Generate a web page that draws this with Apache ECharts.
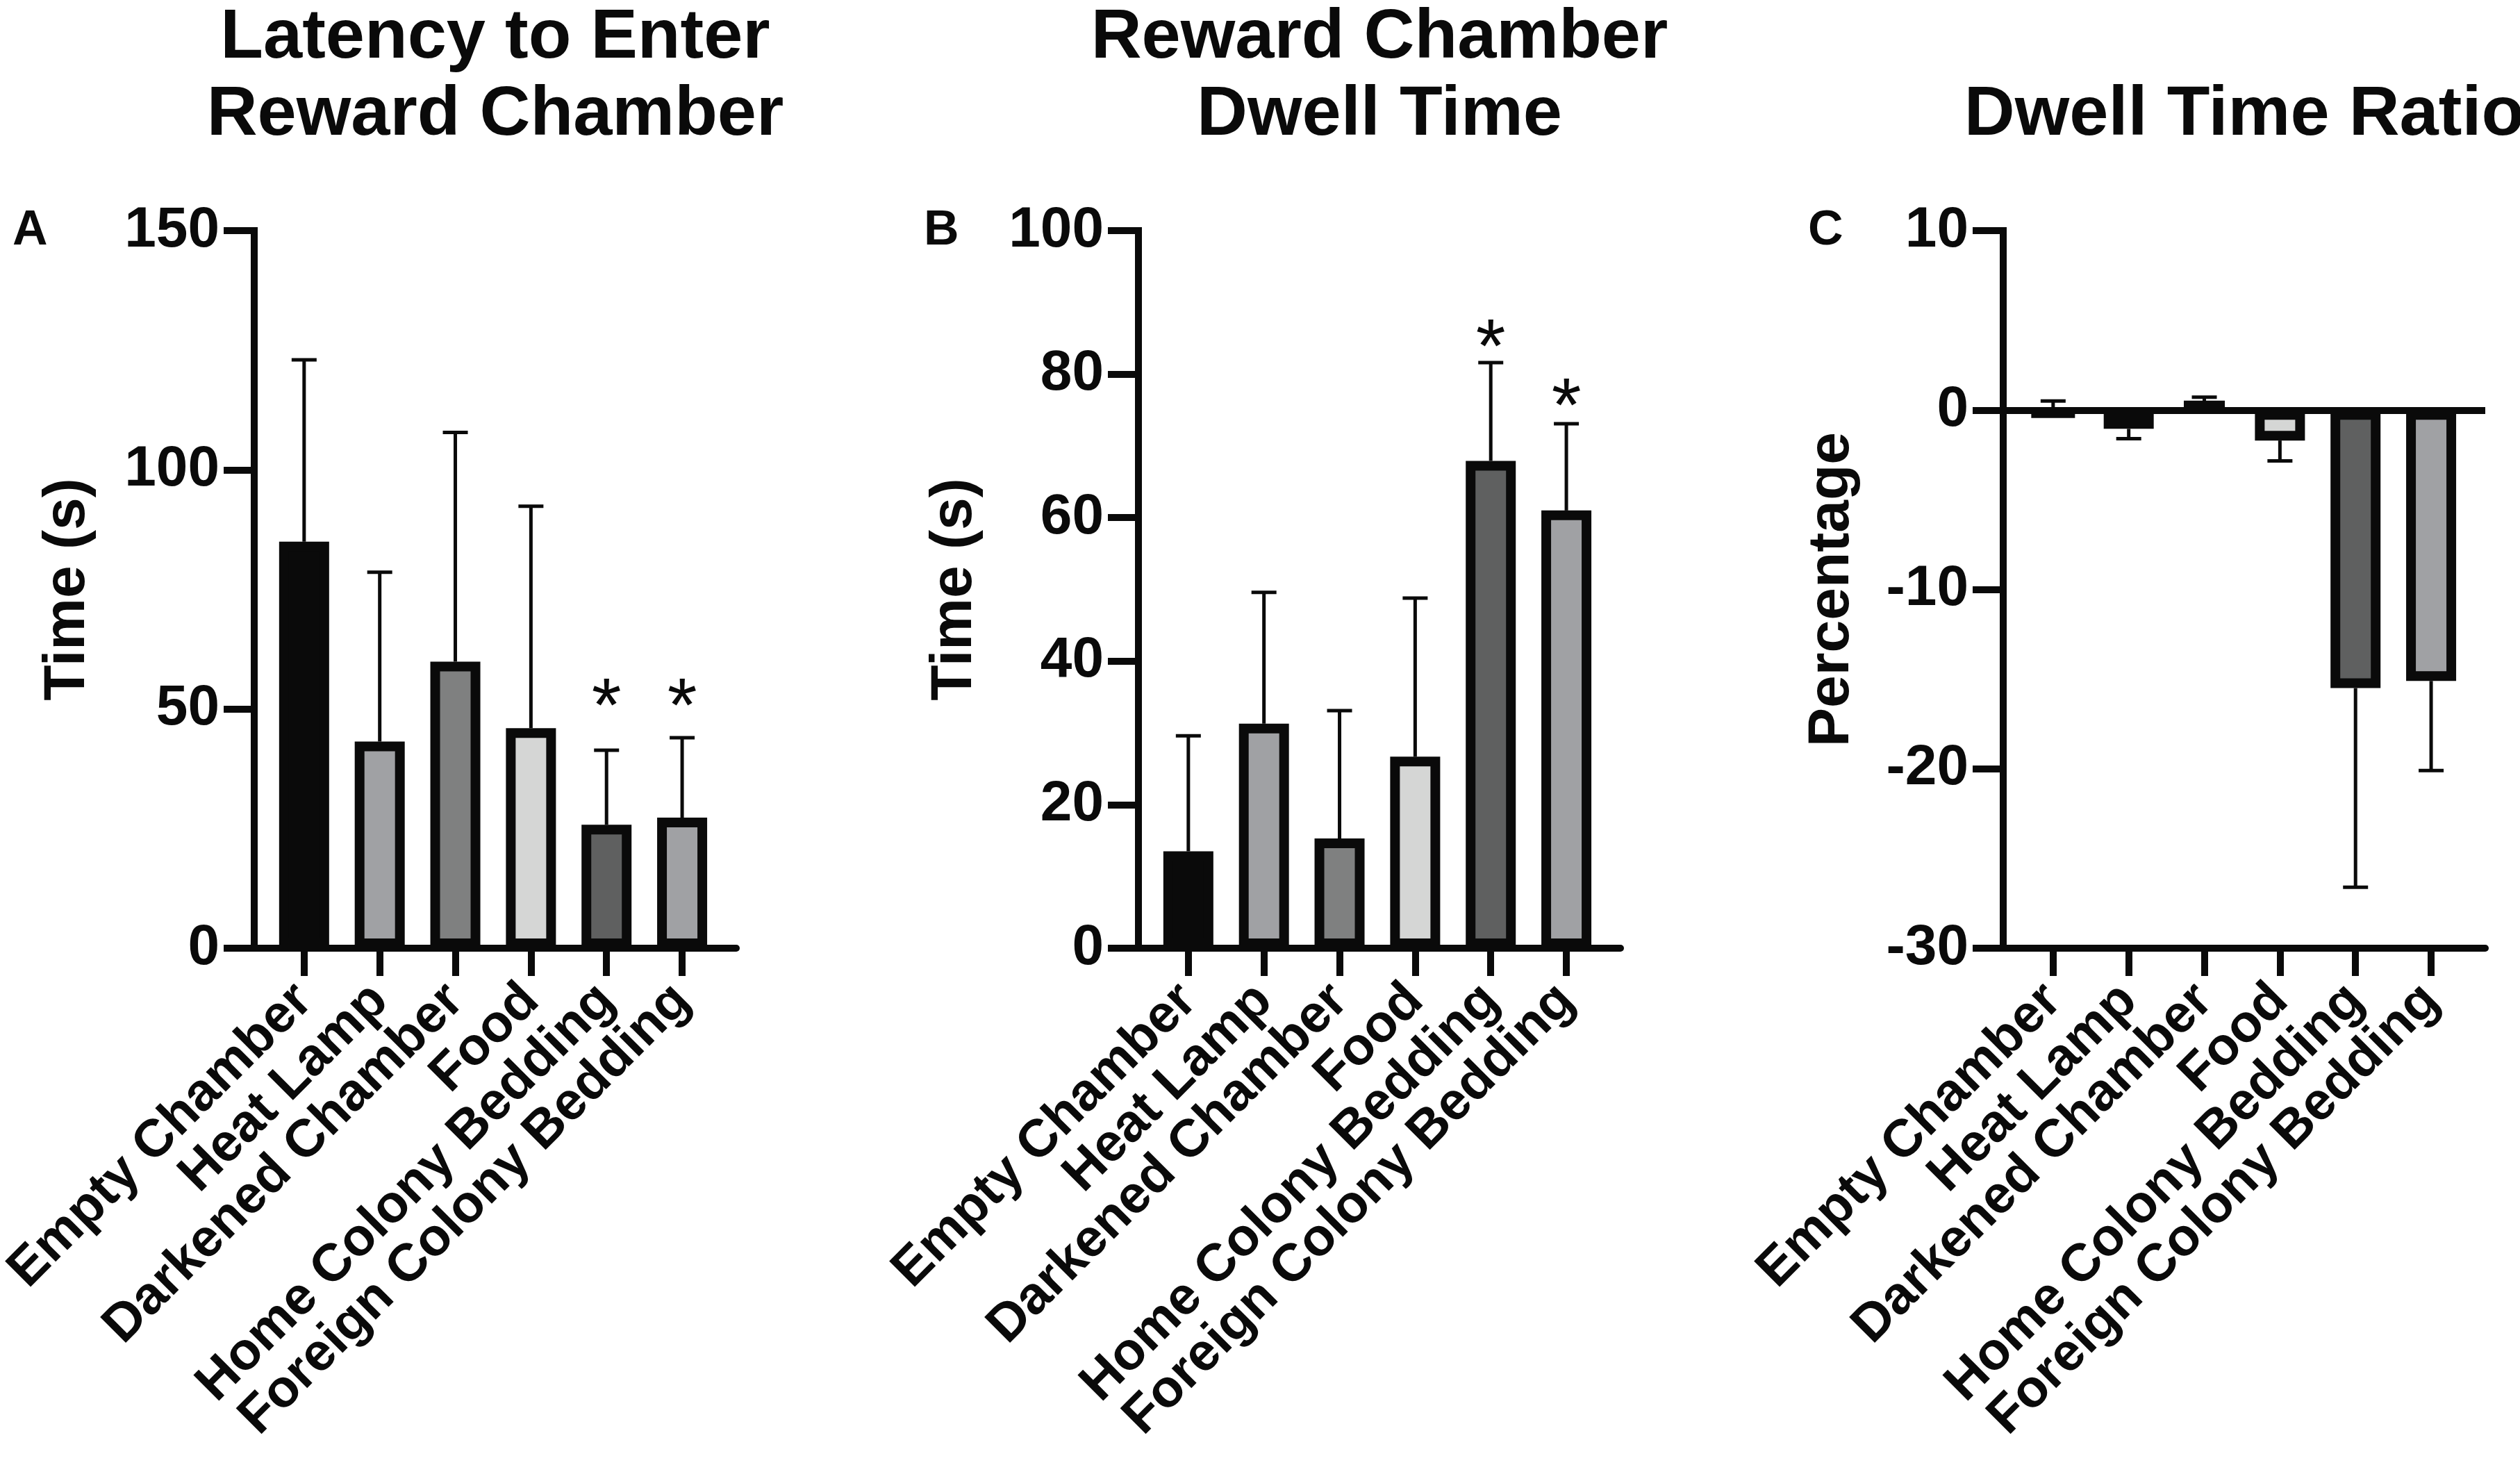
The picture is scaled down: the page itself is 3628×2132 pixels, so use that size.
<!DOCTYPE html>
<html>
<head>
<meta charset="utf-8">
<script src="https://cdn.jsdelivr.net/npm/echarts@6/dist/echarts.min.js"></script>
<style>
html, body { margin: 0; padding: 0; background: #fff; }
#chart { width: 3628px; height: 2132px; }
</style>
</head>
<body>
<div id="chart"></div>
<script>
//分类和颜色
var categories = ['Empty Chamber', 'Heat Lamp', 'Darkened Chamber', 'Food', 'Home Colony Bedding', 'Foreign Colony Bedding'];
var barColors = ['#0a0a0a', '#a0a1a4', '#7f8080', '#d5d6d5', '#5f6060', '#a0a1a4'];

//A 潜伏期
var latencyMean = [85.0, 43.2, 59.9, 46.0, 25.8, 27.3];
var latencyErrEnd = [123.0, 78.6, 107.8, 92.4, 41.4, 44.0];
var latencyStar = [null, null, null, null, 49.8, 49.8];
var latencyTicks = [0, 50, 100, 150];

//B 停留时间
var dwellMean = [13.5, 31.3, 15.3, 26.7, 67.9, 61.0];
var dwellErrEnd = [29.6, 49.6, 33.1, 48.8, 81.6, 73.1];
var dwellStar = [null, null, null, null, 83.3, 75.1];
var dwellTicks = [0, 20, 40, 60, 80, 100];

//C 比例
var ratioMean = [-0.35, -1.05, 0.5, -1.7, -15.5, -15.1];
var ratioErrEnd = [0.5, -1.6, 0.72, -2.84, -26.6, -20.1];
var ratioStar = [null, null, null, null, null, null];
var ratioTicks = [-30, -20, -10, 0, 10];

var FONT = '"Liberation Sans", Arial, sans-serif';
var INK = '#0a0a0a';
var catIdx = categories.map(function (c, i) { return i; });
//标签分两组画, 避免被自动隐藏
var evenIdx = catIdx.filter(function (i) { return i % 2 === 0; });
var oddIdx = catIdx.filter(function (i) { return i % 2 === 1; });

var panels = [
    {left: 366, title: 'Latency to Enter\nReward Chamber', letter: 'A', letterX: 18, name: 'Time (s)', nameGap: 226,
        mean: latencyMean, err: latencyErrEnd, star: latencyStar, ticks: latencyTicks, zeroLine: false},
    {left: 1639, title: 'Reward Chamber\nDwell Time', letter: 'B', letterX: 1330, name: 'Time (s)', nameGap: 222,
        mean: dwellMean, err: dwellErrEnd, star: dwellStar, ticks: dwellTicks, zeroLine: false},
    {left: 2884, title: 'Dwell Time Ratio', letter: 'C', letterX: 2603, name: 'Percentage', nameGap: 204,
        mean: ratioMean, err: ratioErrEnd, star: ratioStar, ticks: ratioTicks, zeroLine: true}
];

var GRID_W = 694, GRID_TOP = 332, GRID_H = 1033;

//误差线 + 星号
function errorBarItem(params, api) {
    var x = api.value(0);
    var p0 = api.coord([x, api.value(1)]);
    var p1 = api.coord([x, api.value(2)]);
    var children = [{
        type: 'line',
        shape: {x1: p0[0], y1: p0[1], x2: p1[0], y2: p1[1]},
        style: {stroke: INK, lineWidth: 5}
    }, {
        type: 'line',
        shape: {x1: p1[0] - 18, y1: p1[1], x2: p1[0] + 18, y2: p1[1]},
        style: {stroke: INK, lineWidth: 5}
    }];
    var s = api.value(3);
    if (!isNaN(s)) {
        var ps = api.coord([x, s]);
        children.push({
            type: 'text',
            x: ps[0],
            y: ps[1],
            style: {text: '*', fontSize: 110, fontFamily: FONT, fill: INK, align: 'center', verticalAlign: 'middle'}
        });
    }
    return {type: 'group', children: children};
}

function catLabel(values) {
    return {
        customValues: values,
        showMinLabel: true,
        showMaxLabel: true,
        hideOverlap: false,
        rotate: 45,
        margin: 64,
        fontFamily: FONT,
        fontWeight: 'bold',
        fontSize: 76,
        color: INK,
        formatter: function (v) { return categories[Math.round(v)]; }
    };
}

var option = {
    backgroundColor: '#ffffff',
    animation: false,
    title: [],
    grid: [],
    xAxis: [],
    yAxis: [],
    series: []
};

panels.forEach(function (p, k) {
    var ticks = p.ticks;
    option.title.push({
        text: p.title,
        left: p.left + GRID_W / 2,
        top: p.title.indexOf('\n') > -1 ? 0 : 111,
        textAlign: 'center',
        padding: 0,
        textStyle: {fontFamily: FONT, fontWeight: 'bold', fontSize: 101, lineHeight: 111, color: INK}
    });
    option.title.push({
        text: p.letter,
        left: p.letterX,
        top: 298,
        padding: 0,
        textStyle: {fontFamily: FONT, fontWeight: 'bold', fontSize: 70, lineHeight: 70, color: INK}
    });
    option.grid.push({
        left: p.left, top: GRID_TOP, width: GRID_W, height: GRID_H,
        containLabel: false, outerBoundsMode: 'none'
    });
    //主x轴: 轴线, 刻度, 偶数标签
    option.xAxis.push({
        type: 'value',
        gridIndex: k,
        position: 'bottom',
        min: -0.66,
        max: 5.716,
        splitLine: {show: false},
        axisLine: {onZero: false, lineStyle: {color: INK, width: 10}},
        axisTick: {show: true, length: 40, customValues: catIdx, lineStyle: {color: INK, width: 10}},
        axisLabel: catLabel(evenIdx)
    });
    //副x轴: 只有奇数标签
    option.xAxis.push({
        type: 'value',
        gridIndex: k,
        position: 'bottom',
        offset: 0,
        min: -0.66,
        max: 5.716,
        splitLine: {show: false},
        axisLine: {show: false, onZero: false},
        axisTick: {show: false},
        axisLabel: catLabel(oddIdx)
    });
    option.yAxis.push({
        type: 'value',
        gridIndex: k,
        min: ticks[0],
        max: ticks[ticks.length - 1],
        interval: ticks[1] - ticks[0],
        name: p.name,
        nameLocation: 'middle',
        nameRotate: 90,
        nameGap: p.nameGap,
        nameTextStyle: {fontFamily: FONT, fontWeight: 'bold', fontSize: 84, color: INK},
        splitLine: {show: false},
        axisLine: {show: true, onZero: false, lineStyle: {color: INK, width: 10, cap: 'square'}},
        axisTick: {show: true, length: 44, lineStyle: {color: INK, width: 10}},
        axisLabel: {margin: 50, fontFamily: FONT, fontWeight: 'bold', fontSize: 82, color: INK}
    });
    var bar = {
        type: 'bar',
        xAxisIndex: 2 * k,
        yAxisIndex: k,
        barWidth: 72,
        itemStyle: {borderColor: INK, borderWidth: 14},
        data: p.mean.map(function (v, i) {
            return {value: [i, v], itemStyle: {color: barColors[i]}};
        })
    };
    if (p.zeroLine) {
        bar.markLine = {
            symbol: 'none',
            silent: true,
            label: {show: false},
            lineStyle: {color: INK, width: 10, type: 'solid'},
            data: [{yAxis: 0}]
        };
    }
    option.series.push(bar);
    option.series.push({
        type: 'custom',
        xAxisIndex: 2 * k,
        yAxisIndex: k,
        renderItem: errorBarItem,
        encode: {x: 0, y: [1, 2]},
        data: p.mean.map(function (v, i) {
            return [i, v, p.err[i], p.star[i] == null ? NaN : p.star[i]];
        })
    });
});

var myChart = echarts.init(document.getElementById('chart'));
myChart.setOption(option);
</script>
</body>
</html>
